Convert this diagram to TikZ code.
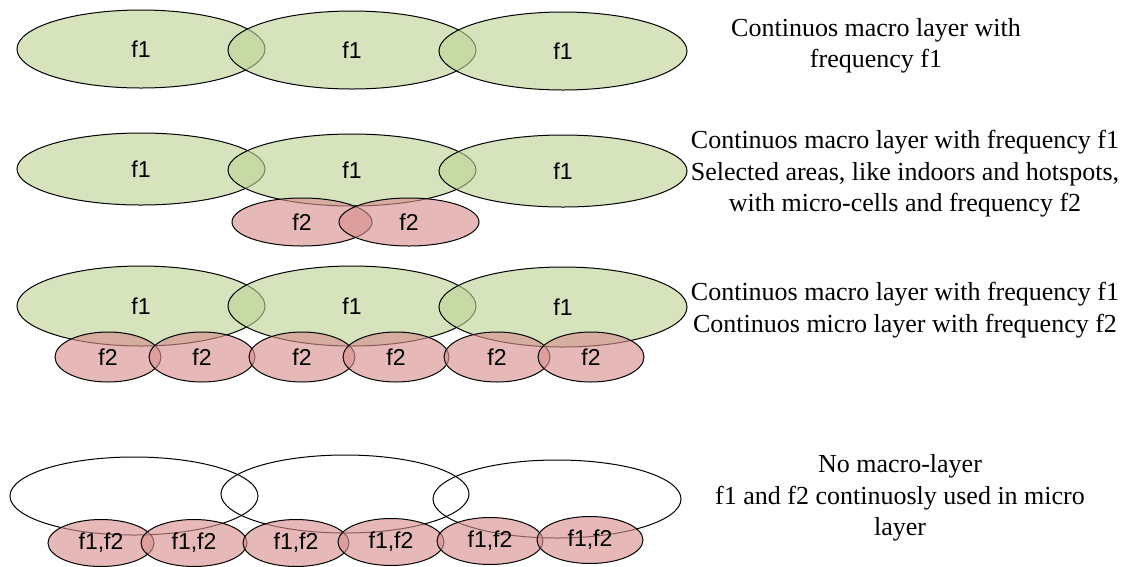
\documentclass[tikz,border=0pt]{standalone}
\usepackage{fontspec}
\setmainfont{Liberation Serif}
\newfontfamily\cellfont{Liberation Sans}
\usetikzlibrary{shapes.geometric}

\definecolor{macrogreen}{RGB}{190,211,150}
\definecolor{microred}{RGB}{215,144,142}

\tikzset{
  cell/.style={ellipse, draw=black, line width=1pt, inner sep=0pt,
    text opacity=1, font=\cellfont\fontsize{23}{23}\selectfont},
  macro/.style={cell, fill=macrogreen, fill opacity=0.63, minimum width=248pt},
  micro/.style={cell, fill=microred, fill opacity=0.63},
  outline/.style={cell, minimum width=248pt, minimum height=78pt},
  caption/.style={align=center, inner sep=0pt, font=\fontsize{26}{31.5}\selectfont}
}

\begin{document}
\begin{tikzpicture}[x=1pt, y=-1pt]
  \useasboundingbox (0,0) rectangle (1133,566);

  % macro layer only
  \foreach \n/\x/\y in {1/141/49, 2/352/50, 3/563/51}
    \node[macro, minimum height=78pt] (ma\n) at (\x,\y) {f1};
  \node[caption] (ta) at (876,46) {Continuos macro layer with\\frequency f1};

  % macro layer plus micro cells in hotspots
  \foreach \n/\x/\y in {1/141/169, 2/352/170, 3/563/171}
    \node[macro, minimum height=72pt] (mb\n) at (\x,\y) {f1};
  \foreach \n/\x in {1/302, 2/409}
    \node[micro, minimum width=140pt, minimum height=48pt] (ub\n) at (\x,222) {f2};
  \node[caption] (tb) at (905,174) {Continuos macro layer with frequency f1\\
    Selected areas, like indoors and hotspots,\\with micro-cells and frequency f2};

  % macro layer plus continuous micro layer
  \foreach \n/\x/\y in {1/141/306, 2/352/306, 3/563/307}
    \node[macro, minimum height=80pt] (mc\n) at (\x,\y) {f1};
  \foreach \n/\x in {1/108, 2/202, 3/302, 4/396, 5/497, 6/591}
    \node[micro, minimum width=106pt, minimum height=50pt] (uc\n) at (\x,357) {f2};
  \node[caption] (tc) at (905,310) {Continuos macro layer with frequency f1\\
    Continuos micro layer with frequency f2};

  % no macro layer, both frequencies in the micro cells
  \foreach \n/\x/\y in {1/134/496, 2/345/494, 3/557/499}
    \node[outline] (md\n) at (\x,\y) {};
  \foreach \n/\x/\y in {1/101/543, 2/194/543, 3/296/543, 4/391/542, 5/490/541, 6/590/540}
    \node[micro, minimum width=106pt, minimum height=47pt] (ud\n) at (\x,\y) {f1,f2};
  \node[caption] (td) at (900,498) {No macro-layer\\
    f1 and f2 continuosly used in micro\\layer};
\end{tikzpicture}
\end{document}
